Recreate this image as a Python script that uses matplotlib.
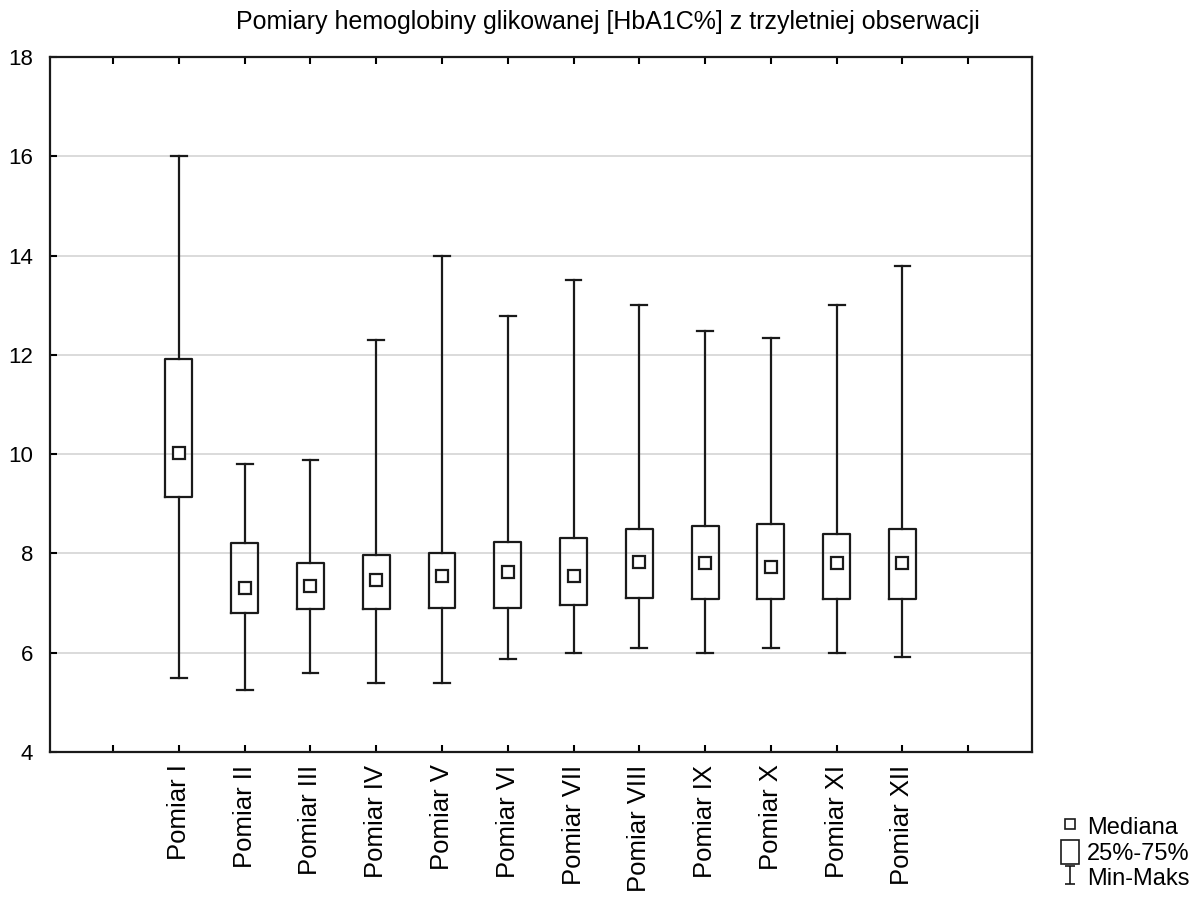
import matplotlib
matplotlib.use("Agg")
import matplotlib.pyplot as plt
from matplotlib.lines import Line2D
from matplotlib.patches import Rectangle
from matplotlib.path import Path

plt.rcParams['font.family'] = ['Liberation Sans', 'DejaVu Sans']

# HbA1C% readings, one entry per measurement
labels = ["Pomiar I", "Pomiar II", "Pomiar III", "Pomiar IV", "Pomiar V", "Pomiar VI",
          "Pomiar VII", "Pomiar VIII", "Pomiar IX", "Pomiar X", "Pomiar XI", "Pomiar XII"]
mins = [5.50, 5.25, 5.59, 5.40, 5.38, 5.88, 6.00, 6.10, 6.00, 6.09, 6.00, 5.91]
q1 = [9.14, 6.80, 6.89, 6.89, 6.91, 6.91, 6.97, 7.10, 7.09, 7.09, 7.09, 7.09]
medians = [10.02, 7.30, 7.34, 7.46, 7.54, 7.63, 7.54, 7.82, 7.81, 7.72, 7.81, 7.81]
q3 = [11.92, 8.21, 7.81, 7.97, 8.00, 8.23, 8.31, 8.50, 8.56, 8.59, 8.40, 8.49]
maxs = [16.00, 9.80, 9.89, 12.29, 14.00, 12.78, 13.50, 13.00, 12.49, 12.34, 13.00, 13.78]

title = "Pomiary hemoglobiny glikowanej [HbA1C%] z trzyletniej obserwacji"

ink = "#1a1a1a"

fig = plt.figure(figsize=(12.01, 8.99), dpi=100)
ax = fig.add_axes([50 / 1201, 1 - 752 / 899, (1032 - 50) / 1201, (752 - 57) / 899])

stats = []
for i in range(len(labels)):
    stats.append(dict(label=labels[i], whislo=mins[i], q1=q1[i], med=medians[i],
                      mean=medians[i], q3=q3[i], whishi=maxs[i]))

positions = list(range(1, len(labels) + 1))
ax.bxp(stats, positions=positions, widths=0.41, capwidths=0.24,
       showfliers=False, showmeans=True,
       boxprops=dict(color=ink, linewidth=1.6),
       whiskerprops=dict(color=ink, linewidth=1.6),
       capprops=dict(color=ink, linewidth=1.6),
       medianprops=dict(linewidth=0),
       meanprops=dict(marker='s', markerfacecolor='white', markeredgecolor=ink,
                      markersize=9, markeredgewidth=1.6),
       zorder=3)

ax.set_xlim(-0.96, 13.97)
ax.set_ylim(4, 18)
ax.set_xticks(range(0, 14))
ax.set_xticklabels([""] + labels + [""], rotation=90, fontsize=18.5)
ax.set_yticks(range(4, 19, 2))
ax.tick_params(axis='y', labelsize=16, direction='in', length=5, width=1.5, pad=12)
ax.tick_params(axis='x', direction='in', length=5, width=1.5, pad=9, top=True)

for y in range(6, 18, 2):
    ax.axhline(y, color='#d4d4d4', linewidth=1.2, zorder=1)

for s in ax.spines.values():
    s.set_linewidth(1.6)
    s.set_color(ink)

fig.text(0.506, 1 - 22 / 899, title, ha='center', va='center', fontsize=18)

# legend drawn in the lower right corner
ibeam = Path([(-0.5, 1), (0.5, 1), (0, 1), (0, -1), (-0.5, -1), (0.5, -1)],
             [Path.MOVETO, Path.LINETO, Path.MOVETO, Path.LINETO, Path.MOVETO, Path.LINETO])
handles = [
    Line2D([], [], ls='none', marker='s', markerfacecolor='white', markeredgecolor=ink,
           markersize=7, markeredgewidth=1.2),
    Rectangle((0, 0), 1, 1, facecolor='white', edgecolor=ink, linewidth=1.2),
    Line2D([], [], ls='none', marker=ibeam, markerfacecolor='none', markeredgecolor=ink,
           markersize=13, markeredgewidth=1.2),
]
fig.legend(handles, ["Mediana", "25%-75%", "Min-Maks"], loc='lower left',
           bbox_to_anchor=(1047 / 1201, -0.006), frameon=False, fontsize=17,
           handlelength=0.75, handleheight=1.2, handletextpad=0.35, labelspacing=0.02,
           borderaxespad=0.2)

fig.savefig("out.png", dpi=100)
